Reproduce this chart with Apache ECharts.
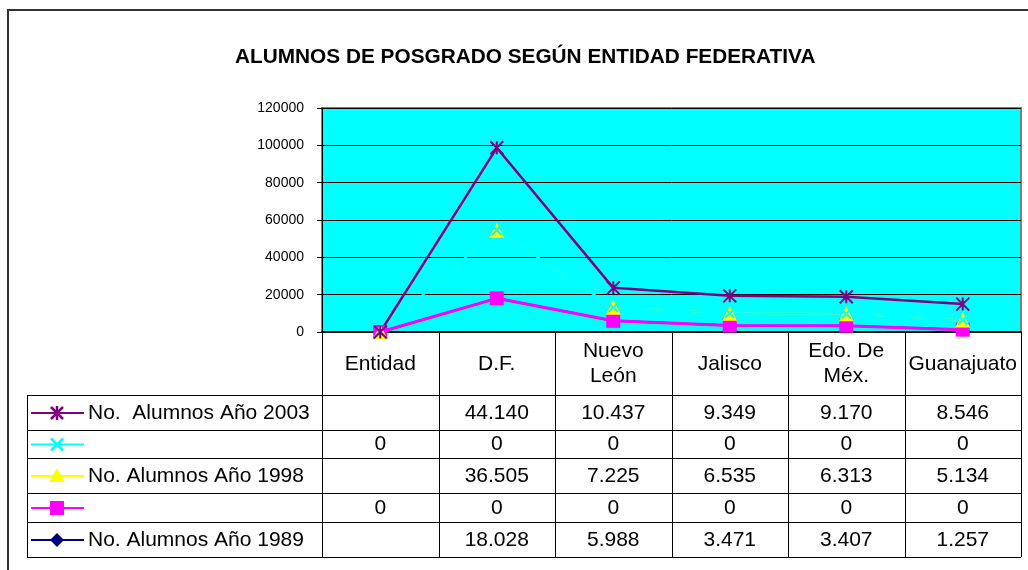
<!DOCTYPE html>
<html>
<head>
<meta charset="utf-8">
<script src="https://cdn.jsdelivr.net/npm/echarts@6/dist/echarts.min.js"></script>
<style>
  html, body { margin: 0; padding: 0; background: #fff; }
  #main { width: 1028px; height: 570px; }
</style>
</head>
<body>
<div id="main"></div>
<script>
const categories = ["Entidad", "D.F.", "Nuevo\nLeón", "Jalisco", "Edo. De\nMéx.", "Guanajuato"];
const alumnos2003 = [null, 44140, 10437, 9349, 9170, 8546];
const serieCyan = [0, 0, 0, 0, 0, 0];
const alumnos1998 = [null, 36505, 7225, 6535, 6313, 5134];
const seriePink = [0, 0, 0, 0, 0, 0];
const alumnos1989 = [null, 18028, 5988, 3471, 3407, 1257];
const yTicks = [0, 20000, 40000, 60000, 80000, 100000, 120000];

const FONT = "Liberation Sans, Arial, sans-serif";
const ASTER = "path://M0,0L10,10M10,0L0,10M5,0L5,10";
const CROSS = "path://M0,0L10,10M10,0L0,10";

// table rows, top to bottom (stacking order is the reverse)
const rows = [
  { name: "No.  Alumnos Año 2003", data: alumnos2003, color: "#800080", mark: "aster" },
  { name: "", data: serieCyan, color: "#00FFFF", mark: "cross" },
  { name: "No. Alumnos Año 1998", data: alumnos1998, color: "#FFFF00", mark: "tri" },
  { name: "", data: seriePink, color: "#FF00FF", mark: "rect" },
  { name: "No. Alumnos Año 1989", data: alumnos1989, color: "#000080", mark: "diamond" }
];

function fmt(v) {
  if (v === null || v === undefined) return "";
  return String(v).replace(/\B(?=(\d{3})+(?!\d))/g, ".");
}
function plotData(arr) {
  return arr.map((v) => (v === null ? 0 : v));
}

const chart = echarts.init(document.getElementById("main"));

const lineSeries = [
  { name: "1989", data: alumnos1989, color: "#000080", width: 2, symbol: "diamond", size: 11 },
  { name: "pink", data: seriePink, color: "#FF00FF", width: 3, symbol: "rect", size: 14 },
  { name: "1998", data: alumnos1998, color: "#FFFF00", width: 1.5, symbol: "triangle", size: 15 },
  { name: "cyan", data: serieCyan, color: "#00FFFF", width: 2, symbol: CROSS, size: 9 },
  { name: "2003", data: alumnos2003, color: "#800080", width: 2.5, symbol: ASTER, size: 13 }
].map((s) => ({
  type: "line",
  name: s.name,
  stack: "total",
  data: plotData(s.data),
  symbol: s.symbol,
  symbolSize: s.size,
  showAllSymbol: true,
  lineStyle: { color: s.color, width: s.width },
  itemStyle: {
    color: s.symbol.startsWith("path") ? "none" : s.color,
    borderColor: s.color,
    borderWidth: s.symbol.startsWith("path") ? 2 : 0
  },
  emphasis: { disabled: true },
  animation: false
}));

chart.setOption({
  animation: false,
  title: {
    text: "ALUMNOS DE POSGRADO SEGÚN ENTIDAD FEDERATIVA",
    left: 235,
    top: 47,
    padding: 0,
    textStyle: { fontFamily: FONT, fontSize: 20.8, fontWeight: "bold", color: "#000" }
  },
  grid: {
    left: 322, right: 7, top: 108, bottom: 238,
    show: true, backgroundColor: "#00FFFF", borderColor: "#808080", borderWidth: 2
  },
  xAxis: {
    type: "category",
    data: categories,
    boundaryGap: true,
    axisLine: { lineStyle: { color: "#000", width: 2 } },
    axisTick: { show: false },
    axisLabel: {
      interval: 0, margin: 32, verticalAlign: "middle", align: "center",
      fontFamily: FONT, fontSize: 21, lineHeight: 25, color: "#000"
    }
  },
  yAxis: {
    type: "value",
    min: yTicks[0],
    max: yTicks[yTicks.length - 1],
    interval: yTicks[1] - yTicks[0],
    axisLine: { show: true, lineStyle: { color: "#000", width: 1 } },
    axisTick: { show: true, length: 5, lineStyle: { color: "#000" } },
    axisLabel: { fontFamily: FONT, fontSize: 14, color: "#000", margin: 18, formatter: (v) => String(v) },
    splitLine: { lineStyle: { color: "#000", width: 1 } }
  },
  series: lineSeries
});

// data table under the plot, placed with the axis scales
const cellW = chart.convertToPixel({ xAxisIndex: 0 }, 1) - chart.convertToPixel({ xAxisIndex: 0 }, 0);
const x0 = chart.convertToPixel({ xAxisIndex: 0 }, 0) - cellW / 2;
const yBase = chart.convertToPixel({ yAxisIndex: 0 }, 0);
const rowLines = [395, 430, 458, 493, 522, 557];
const tableLeft = 27;
const xRight = x0 + cellW * categories.length;

const g = [];
g.push({ type: "rect", shape: { x: 8, y: 10, width: 1040, height: 580 }, style: { fill: "none", stroke: "#333", lineWidth: 2 } });
for (let i = 0; i <= categories.length; i++) {
  const x = Math.round(x0 + cellW * i) + 0.5;
  g.push({ type: "line", shape: { x1: x, y1: yBase, x2: x, y2: rowLines[rowLines.length - 1] }, style: { stroke: "#000", lineWidth: 1 } });
}
g.push({ type: "line", shape: { x1: tableLeft + 0.5, y1: rowLines[0], x2: tableLeft + 0.5, y2: rowLines[rowLines.length - 1] }, style: { stroke: "#000", lineWidth: 1 } });
rowLines.forEach((y) => {
  g.push({ type: "line", shape: { x1: tableLeft, y1: y + 0.5, x2: xRight, y2: y + 0.5 }, style: { stroke: "#000", lineWidth: 1 } });
});

function seg(x1, y1, x2, y2, color) {
  return { type: "line", shape: { x1, y1, x2, y2 }, style: { stroke: color, lineWidth: 2.5 } };
}
function marker(kind, cx, cy, color) {
  const s = 6;
  if (kind === "aster") {
    return [seg(cx - s, cy - s, cx + s, cy + s, color), seg(cx + s, cy - s, cx - s, cy + s, color), seg(cx, cy - s - 1, cx, cy + s + 1, color)];
  }
  if (kind === "cross") {
    return [seg(cx - s, cy - s, cx + s, cy + s, color), seg(cx + s, cy - s, cx - s, cy + s, color)];
  }
  if (kind === "tri") {
    return [{ type: "polygon", shape: { points: [[cx, cy - 8], [cx + 8, cy + 6], [cx - 8, cy + 6]] }, style: { fill: color } }];
  }
  if (kind === "rect") {
    return [{ type: "rect", shape: { x: cx - 7, y: cy - 7, width: 14, height: 14 }, style: { fill: color } }];
  }
  return [{ type: "polygon", shape: { points: [[cx, cy - 7], [cx + 7, cy], [cx, cy + 7], [cx - 7, cy]] }, style: { fill: color } }];
}

rows.forEach((r, i) => {
  const cy = (rowLines[i] + rowLines[i + 1]) / 2 + 0.5;
  g.push({ type: "line", shape: { x1: 31, y1: cy, x2: 84, y2: cy }, style: { stroke: r.color, lineWidth: 2 } });
  marker(r.mark, 57, cy, r.color).forEach((m) => g.push(m));
  g.push({ type: "text", x: 88, y: cy, style: { text: r.name, fontFamily: FONT, fontSize: 21, fill: "#000", verticalAlign: "middle", align: "left" } });
  r.data.forEach((v, j) => {
    const cx = chart.convertToPixel({ xAxisIndex: 0 }, j);
    g.push({ type: "text", x: cx, y: cy, style: { text: fmt(v), fontFamily: FONT, fontSize: 21, fill: "#000", verticalAlign: "middle", align: "center" } });
  });
});

chart.setOption({ graphic: { elements: g.map((e) => Object.assign({ silent: true, z: 10 }, e)) } });
</script>
</body>
</html>
